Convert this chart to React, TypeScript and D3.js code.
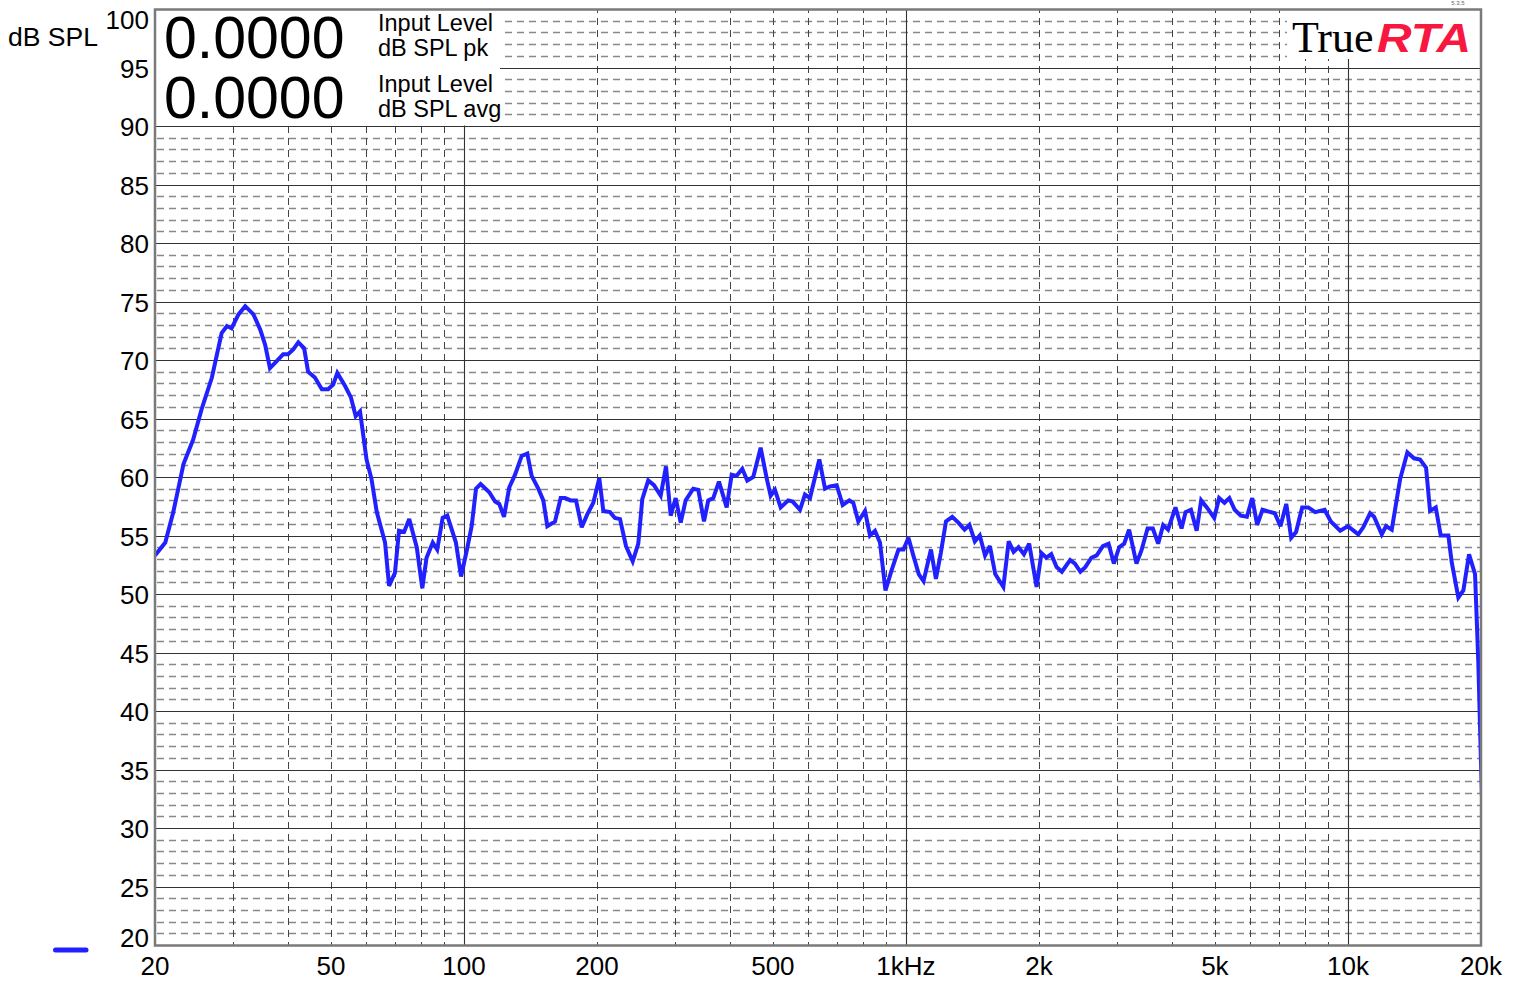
import React from 'react';
import * as d3 from 'd3';

// ---- Data (frequency in Hz, level in dB SPL) ----
const freqHz: number[] = [
  20, 21.1, 22.0, 23.2, 24.4, 25.5, 26.9, 28.3, 29.1, 29.8, 30.9, 32.0, 33.4, 34.6, 35.5, 36.4, 37.7, 39.0, 40.0, 41.1,
  42.2, 43.5, 44.4, 46.0, 47.7, 49.3, 50.6, 51.7, 53.8, 55.5, 56.9, 58.2, 60.2, 61.8, 63.5, 66.3, 67.7, 69.8, 71.3, 73.2,
  75.2, 78.2, 80.5, 82.3, 85.0, 87.0, 89.5, 91.7, 95.9, 98.5, 101.6,
  104.1, 106.5, 109.1, 114.1, 117.6, 120.2, 123.2, 126.6, 130.5, 135.1, 139.1, 142.3, 147.3, 151.2, 154.4, 160.7, 165.5, 169.3, 174.4, 179.3,
  184.7, 190.1, 196.2, 202.4, 206.7, 214.0, 219.6, 225.5, 232.6, 240.9, 248.0, 253.2, 261.2, 269.1, 278.7, 286.5, 293.6, 301.3, 309.3, 317.4,
  330.2, 339.0, 349.2, 357.1, 366.5, 377.5, 393.0, 403.4, 414.0, 426.3, 437.5, 451.4, 469.1, 484.0, 494.2, 505.4, 520.7, 541.7, 554.3, 575.8,
  590.9, 606.5, 636.8, 656.0, 673.3, 697.2, 719.3, 744.4, 760.1, 780.2,
  807.9, 829.2, 851.1, 873.5, 898.9, 927.4, 961.9, 987.2, 1013, 1039, 1069, 1096, 1139, 1169, 1199, 1232, 1273, 1314, 1357, 1392,
  1432, 1469, 1510, 1549, 1592, 1661, 1708, 1752, 1798, 1849, 1900, 1975, 2026, 2079, 2132, 2192, 2253, 2352, 2412, 2481,
  2545, 2628, 2701, 2790, 2874, 2954, 3037, 3117, 3198, 3323, 3409, 3521, 3619, 3721, 3819, 3918, 4072, 4203, 4292, 4414,
  4547, 4655, 4795, 4983, 5112, 5255, 5391, 5543, 5722, 5907, 6075, 6232, 6406, 6830, 7036, 7252, 7439, 7631, 7878, 8132,
  8434, 8857, 9147, 9607, 10000,
  10552, 10830, 11221, 11458, 11927, 12197, 12564, 13120, 13628, 14111, 14559, 15022, 15338, 15800, 16217, 16872, 17173, 17774, 18243, 18793,
  19389, 19721, 20000, 20300,
];

const levelDb: number[] = [
  53.3, 54.4, 57.0, 61.1, 63.2, 65.8, 68.5, 72.3, 72.9, 72.7, 73.9, 74.6, 73.9, 72.6, 71.3, 69.3, 69.9, 70.5, 70.5, 70.9,
  71.5, 71.0, 69.0, 68.5, 67.5, 67.5, 67.9, 68.9, 67.8, 66.8, 65.2, 65.6, 61.5, 59.8, 57.0, 54.4, 50.7, 51.8, 55.4, 55.3,
  56.4, 54.0, 50.5, 53.1, 54.4, 53.8, 56.5, 56.7, 54.4, 51.5, 53.8,
  55.8, 59.0, 59.4, 58.7, 57.9, 57.7, 56.6, 59.1, 60.2, 61.8, 62.0, 60.1, 59.0, 58.0, 55.8, 56.2, 58.2, 58.2, 58.0, 58.0,
  55.7, 56.8, 57.8, 59.9, 57.1, 57.0, 56.5, 56.4, 54.1, 52.8, 54.3, 58.1, 59.7, 59.3, 58.4, 60.9, 56.7, 58.2, 56.1, 58.0,
  59.0, 58.9, 56.2, 58.0, 58.2, 59.6, 57.4, 60.2, 60.1, 60.7, 59.7, 60.0, 62.5, 59.9, 58.4, 58.9, 57.4, 58.0, 57.9, 57.2,
  58.5, 58.2, 61.5, 59.0, 59.2, 59.3, 57.6, 58.0, 57.8, 56.2,
  57.1, 55.0, 55.4, 54.4, 50.3, 52.0, 53.8, 53.8, 54.8, 53.3, 51.7, 51.1, 53.8, 51.3, 53.5, 56.2, 56.6, 56.1, 55.5, 55.9,
  54.5, 55.0, 53.3, 54.1, 51.7, 50.6, 54.5, 53.6, 54.0, 53.4, 54.3, 50.6, 53.5, 53.1, 53.4, 52.3, 51.9, 52.9, 52.6, 51.9,
  52.3, 53.1, 53.3, 54.1, 54.3, 52.6, 54.0, 54.3, 55.5, 52.6, 53.7, 55.6, 55.6, 54.3, 55.9, 55.5, 57.4, 55.6, 57.0, 57.2,
  55.4, 58.0, 57.4, 56.5, 58.2, 57.8, 58.2, 57.2, 56.7, 56.6, 58.2, 55.9, 57.2, 56.9, 55.8, 57.7, 54.8, 55.3, 57.4, 57.4,
  57.0, 57.2, 56.2, 55.4, 55.8,
  55.1, 55.7, 56.9, 56.6, 55.1, 55.8, 55.5, 59.8, 62.1, 61.6, 61.5, 60.8, 57.1, 57.4, 55.0, 55.0, 52.7, 49.7, 50.3, 53.4,
  51.7, 44.2, 35.6, 27.0,
];

const yTickValues: number[] = [20, 25, 30, 35, 40, 45, 50, 55, 60, 65, 70, 75, 80, 85, 90, 95, 100];
const xTickValues: number[] = [20, 50, 100, 200, 500, 1000, 2000, 5000, 10000, 20000];
const xTickLabels: string[] = ['20', '50', '100', '200', '500', '1kHz', '2k', '5k', '10k', '20k'];
const majorFreqs: number[] = [100, 1000, 10000];
const readoutValues: string[] = ['0.0000', '0.0000'];
const readoutLabels: string[][] = [['Input Level', 'dB SPL pk'], ['Input Level', 'dB SPL avg']];
const yAxisTitle = 'dB SPL';
const versionText = '5.3.5';

const SANS = '"Liberation Sans", Arial, Helvetica, sans-serif';
const SERIF = '"Liberation Serif", "Times New Roman", serif';
const BLUE = '#2121ff';

export default function App() {
  const W = 1520;
  const H = 982;
  const left = 155;
  const right = 1481;
  const top = 9;
  const bottom = 945;

  const x = d3.scaleLog().domain([20, 20000]).range([left, right]);
  const y = d3.scaleLinear().domain([20, 100]).range([bottom, top]);

  const minorDb = d3.range(21, 100).filter((v) => v % 5 !== 0);
  const majorDb = d3.range(25, 100, 5);
  const minorFreqs: number[] = [];
  [10, 100, 1000].forEach((dec) => {
    for (let m = 2; m <= 9; m++) {
      const f = m * dec;
      if (f > 20 && f < 20000) minorFreqs.push(f);
    }
  });

  const n = Math.min(freqHz.length, levelDb.length);
  const pts = d3.range(n).map((i) => [freqHz[i], levelDb[i]] as [number, number]);
  const line = d3
    .line<[number, number]>()
    .x((d) => x(d[0]))
    .y((d) => y(d[1]));

  return (
    <svg
      width={W}
      height={H}
      viewBox={`0 0 ${W} ${H}`}
      style={{ position: 'absolute', left: 0, top: 0, display: 'block', background: '#fff' }}
    >
      <defs>
        <clipPath id="plotClip">
          <rect x={left} y={top} width={right - left} height={bottom - top} />
        </clipPath>
      </defs>
      <rect x={0} y={0} width={W} height={H} fill="#fff" />

      {/* minor horizontal dashed grid */}
      {minorDb.map((v) => (
        <line
          key={'hm' + v}
          x1={left + 2}
          x2={right}
          y1={Math.round(y(v)) + 0.5}
          y2={Math.round(y(v)) + 0.5}
          stroke="#888"
          strokeWidth={1.5}
          strokeDasharray="7,5"
        />
      ))}
      {/* minor vertical dashed grid */}
      {minorFreqs.map((f) => (
        <line
          key={'vm' + f}
          x1={Math.round(x(f)) + 0.5}
          x2={Math.round(x(f)) + 0.5}
          y1={top}
          y2={bottom}
          stroke="#444"
          strokeWidth={1}
          strokeDasharray="7,5"
          strokeDashoffset={3}
        />
      ))}
      {/* major horizontal */}
      {majorDb.map((v) => (
        <line
          key={'hM' + v}
          x1={left}
          x2={right}
          y1={Math.round(y(v)) + 0.5}
          y2={Math.round(y(v)) + 0.5}
          stroke="#333"
          strokeWidth={1.1}
        />
      ))}
      {/* major vertical */}
      {majorFreqs.map((f) => (
        <line
          key={'vM' + f}
          x1={Math.round(x(f)) + 0.5}
          x2={Math.round(x(f)) + 0.5}
          y1={top}
          y2={bottom}
          stroke="#333"
          strokeWidth={1.1}
        />
      ))}

      {/* readout box */}
      <rect x={left + 1} y={top + 1} width={500 - left - 1} height={y(90) - top - 1.5} fill="#fff" />
      {readoutValues.map((v, i) => (
        <text key={'rv' + i} x={164} y={57.5 + i * 60} fontFamily={SANS} fontSize={59} fill="#000">
          {v}
        </text>
      ))}
      {readoutLabels.map((pair, i) =>
        pair.map((t, j) => (
          <text
            key={'rl' + i + j}
            x={378}
            y={31 + i * 61 + j * 25}
            fontFamily={SANS}
            fontSize={23.5}
            fill="#000"
          >
            {t}
          </text>
        ))
      )}

      {/* logo box */}
      <rect x={1287} y={top + 1} width={right - 1287 - 1} height={49} fill="#fff" />
      <text x={1292} y={51.7} fontFamily={SERIF} fontSize={44} fill="#000">
        True
      </text>
      <text
        x={1377}
        y={51.7}
        fontFamily={SANS}
        fontSize={41}
        fontWeight="bold"
        fontStyle="italic"
        fill="#f7173f"
        textLength={94}
        lengthAdjust="spacingAndGlyphs"
      >
        RTA
      </text>
      <text x={1458} y={5} fontFamily={SANS} fontSize={6} fill="#666" textAnchor="middle">
        {versionText}
      </text>

      {/* data line */}
      <g clipPath="url(#plotClip)">
        <path
          d={line(pts) || ''}
          fill="none"
          stroke={BLUE}
          strokeWidth={4}
          strokeLinejoin="miter"
          strokeMiterlimit={3}
        />
      </g>

      {/* plot border */}
      <rect
        x={left}
        y={top + 0.5}
        width={right - left}
        height={bottom - top}
        fill="none"
        stroke="#7a7a7a"
        strokeWidth={2.5}
      />

      {/* y axis labels */}
      {yTickValues.map((v) => (
        <text
          key={'yl' + v}
          x={149}
          y={Math.min(Math.max(y(v) + 10, 28.5), 947)}
          textAnchor="end"
          fontFamily={SANS}
          fontSize={26}
          fill="#000"
        >
          {v}
        </text>
      ))}
      <text x={8} y={46} fontFamily={SANS} fontSize={26.5} fill="#000">
        {yAxisTitle}
      </text>

      {/* x axis labels */}
      {xTickValues.map((f, i) => (
        <text
          key={'xl' + f}
          x={x(f)}
          y={975}
          textAnchor="middle"
          fontFamily={SANS}
          fontSize={26}
          fill="#000"
        >
          {xTickLabels[i]}
        </text>
      ))}

      {/* legend swatch */}
      <line x1={55.5} x2={86} y1={950} y2={950} stroke={BLUE} strokeWidth={5} strokeLinecap="round" />
    </svg>
  );
}
